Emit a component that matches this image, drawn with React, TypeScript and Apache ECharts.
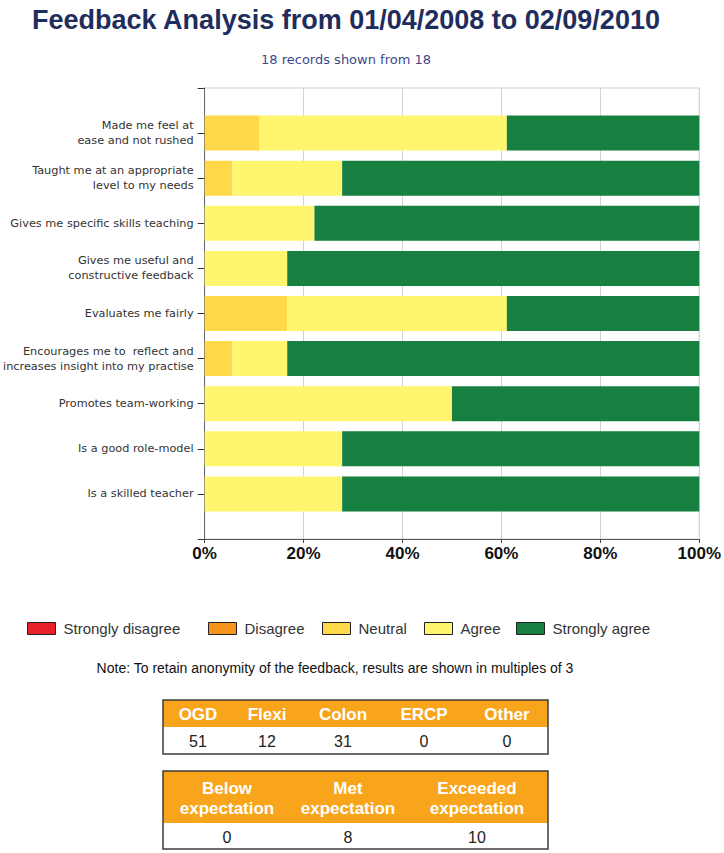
import React, { useEffect, useRef } from "react";
import * as echarts from "echarts";

const titleText = "Feedback Analysis from 01/04/2008 to 02/09/2010";
const subtitleText = "18 records shown from 18";
const noteText = "Note: To retain anonymity of the feedback, results are shown in multiples of 3";

const categories = [
  "Made me feel at\nease and not rushed",
  "Taught me at an appropriate\nlevel to my needs",
  "Gives me specific skills teaching",
  "Gives me useful and\nconstructive feedback",
  "Evaluates me fairly",
  "Encourages me to  reflect and\nincreases insight into my practise",
  "Promotes team-working",
  "Is a good role-model",
  "Is a skilled teacher",
];

const seriesNames = ["Strongly disagree", "Disagree", "Neutral", "Agree", "Strongly agree"];
const stronglyDisagree = [0, 0, 0, 0, 0, 0, 0, 0, 0];
const disagree = [0, 0, 0, 0, 0, 0, 0, 0, 0];
const neutral = [11.1, 5.6, 0, 0, 16.7, 5.6, 0, 0, 0];
const agree = [50, 22.2, 22.2, 16.7, 44.4, 11.1, 50, 27.8, 27.8];
const stronglyAgree = [38.9, 72.2, 77.8, 83.3, 38.9, 83.3, 50, 72.2, 72.2];

const xMin = 0;
const xMax = 100;
const xStep = 20;

const procedureHeaders = ["OGD", "Flexi", "Colon", "ERCP", "Other"];
const procedureCounts = [51, 12, 31, 0, 0];
const expectationHeaders = ["Below\nexpectation", "Met\nexpectation", "Exceeded\nexpectation"];
const expectationCounts = [0, 8, 10];

// layout / style constants
const seriesColors = ["#E8202A", "#F7941E", "#FFD94A", "#FFF56F", "#158040"];
const legendLefts = [27, 208, 322, 424, 516];
const procCenters = [198, 267, 343, 424, 507];
const expCenters = [227, 348, 477];
const TABLE_LEFT = 163;
const TABLE_W = 385;
const ORANGE = "#F9A51B";

function buildTable(
  headers: string[],
  values: number[],
  centers: number[],
  top: number,
  headerH: number,
  rowH: number
): any[] {
  const els: any[] = [];
  els.push({
    type: "rect",
    shape: { x: TABLE_LEFT, y: top, width: TABLE_W, height: headerH },
    style: { fill: ORANGE },
  });
  els.push({
    type: "rect",
    shape: { x: TABLE_LEFT, y: top + headerH, width: TABLE_W, height: rowH },
    style: { fill: "#ffffff" },
  });
  els.push({
    type: "rect",
    shape: { x: TABLE_LEFT, y: top, width: TABLE_W, height: headerH + rowH },
    style: { fill: "none", stroke: "#3c3c3c", lineWidth: 1.5 },
  });
  headers.forEach((h, i) => {
    els.push({
      type: "text",
      x: centers[i],
      y: top + headerH / 2 + 1,
      style: {
        text: h,
        fill: "#ffffff",
        font: "bold 17px 'Liberation Sans', Arial, sans-serif",
        align: "center",
        verticalAlign: "middle",
        lineHeight: 20,
      },
    });
  });
  values.forEach((v, i) => {
    els.push({
      type: "text",
      x: centers[i],
      y: top + headerH + rowH / 2 + 1,
      style: {
        text: String(v),
        fill: "#222222",
        font: "16px 'Liberation Sans', Arial, sans-serif",
        align: "center",
        verticalAlign: "middle",
      },
    });
  });
  return els;
}

export default function App() {
  const ref = useRef<HTMLDivElement>(null);

  useEffect(() => {
    document.body.style.margin = "0";
    if (!ref.current) return;
    const chart = echarts.init(ref.current, undefined, { renderer: "svg" });

    const yData = ["", ...categories, ""];
    const pad = (arr: number[]) => ["-", ...arr, "-"];
    const seriesData = [stronglyDisagree, disagree, neutral, agree, stronglyAgree];

    const option: any = {
      animation: false,
      backgroundColor: "#ffffff",
      grid: {
        left: 204,
        right: 23,
        top: 88,
        bottom: 314,
        show: true,
        borderColor: "#cfcfcf",
        borderWidth: 1,
        backgroundColor: "transparent",
      },
      legend: seriesNames.map((name, i) => ({
        data: [name],
        left: legendLefts[i],
        top: 621,
        padding: 0,
        itemWidth: 28,
        itemHeight: 12,
        icon: "rect",
        selectedMode: false,
        itemStyle: { borderColor: "#222", borderWidth: 1 },
        textStyle: {
          fontSize: 15,
          color: "#333",
          fontFamily: "'Liberation Sans', Arial, sans-serif",
          padding: [0, 0, 0, 3],
        },
      })),
      xAxis: {
        type: "value",
        min: xMin,
        max: xMax,
        interval: xStep,
        axisLine: { show: true, lineStyle: { color: "#555", width: 1 } },
        axisTick: { show: true, length: 4, lineStyle: { color: "#444" } },
        splitLine: { show: true, lineStyle: { color: "#d2d2d2", width: 1 } },
        axisLabel: {
          formatter: "{value}%",
          fontSize: 17,
          fontWeight: "bold",
          color: "#111",
          margin: 6,
          fontFamily: "'Liberation Sans', Arial, sans-serif",
        },
      },
      yAxis: {
        type: "category",
        data: yData,
        inverse: true,
        boundaryGap: false,
        axisLine: { show: true, lineStyle: { color: "#666", width: 1 } },
        axisTick: { show: true, length: 7, inside: false, lineStyle: { color: "#333" } },
        splitLine: { show: false },
        axisLabel: {
          fontSize: 11.3,
          color: "#333",
          lineHeight: 15,
          margin: 11,
          fontFamily: "'DejaVu Sans', Verdana, sans-serif",
          interval: 0,
        },
      },
      series: seriesNames.map((name, i) => ({
        name,
        type: "bar",
        stack: "total",
        barWidth: 35,
        data: pad(seriesData[i]),
        itemStyle: { color: seriesColors[i] },
        emphasis: { disabled: true },
      })),
      graphic: [
        {
          type: "text",
          x: 346,
          y: 20,
          style: {
            text: titleText,
            fill: "#1F2D5C",
            font: "bold 27px 'Liberation Sans', Arial, sans-serif",
            align: "center",
            verticalAlign: "middle",
          },
        },
        {
          type: "text",
          x: 346,
          y: 59,
          style: {
            text: subtitleText,
            fill: "#3C4A8A",
            font: "13px 'DejaVu Sans', Verdana, sans-serif",
            align: "center",
            verticalAlign: "middle",
          },
        },
        {
          type: "text",
          x: 335,
          y: 668,
          style: {
            text: noteText,
            fill: "#111",
            font: "14px 'Liberation Sans', Arial, sans-serif",
            align: "center",
            verticalAlign: "middle",
          },
        },
        ...buildTable(procedureHeaders, procedureCounts, procCenters, 700, 27, 27),
        ...buildTable(expectationHeaders, expectationCounts, expCenters, 771, 52, 26),
      ],
    };

    chart.setOption(option);
    return () => chart.dispose();
  }, []);

  return <div ref={ref} style={{ width: 724, height: 853 }} />;
}
